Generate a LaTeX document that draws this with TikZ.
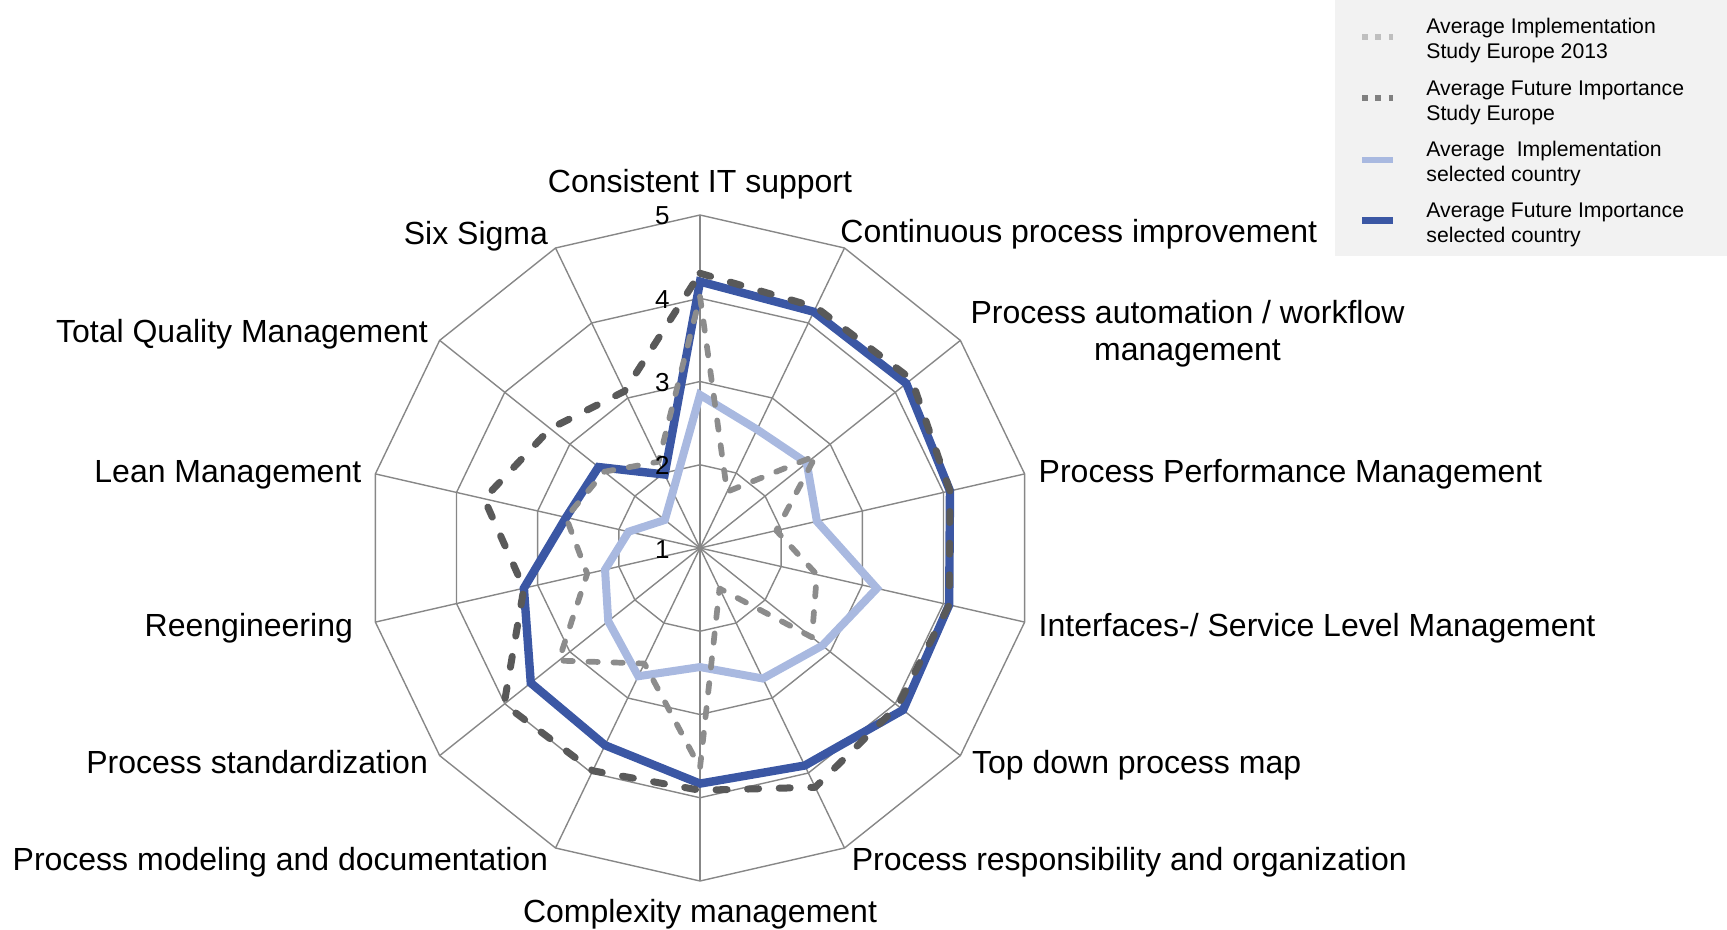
\documentclass[tikz,border=0pt]{standalone}
\usepackage{fontspec}
\setmainfont{Liberation Sans}
\definecolor{gridgray}{HTML}{878787}
\definecolor{futblue}{HTML}{3B57A4}
\definecolor{implblue}{HTML}{A9B9E0}
\definecolor{eurodark}{HTML}{595959}
\definecolor{eurolight}{HTML}{8C8C8C}
\definecolor{legendbg}{HTML}{F2F2F2}
\definecolor{legA}{HTML}{BFBFBF}
\definecolor{legB}{HTML}{808080}
\begin{document}
\begin{tikzpicture}[x=0.5pt,y=0.5pt,
  gridline/.style={draw=gridgray, line width=0.7pt},
  futline/.style={draw=futblue, line width=4.2pt, line join=miter},
  implline/.style={draw=implblue, line width=4pt, line join=miter},
  eurofut/.style={draw=eurodark, line width=3.5pt, line cap=round, line join=round, dash pattern=on 5.5pt off 10.3pt},
  euroimpl/.style={draw=eurolight, line width=2.85pt, line cap=round, line join=round, dash pattern=on 4.7pt off 7.8pt},
  axislabel/.style={font=\fontsize{16}{19}\selectfont, inner sep=0pt},
  ticklabel/.style={font=\fontsize{13}{15}\selectfont, inner sep=0pt, anchor=base east},
  legendtext/.style={font=\fontsize{10.6}{12.25}\selectfont, inner sep=0pt, anchor=base west},
  legsampleA/.style={draw=legA, line width=3pt, dash pattern=on 3pt off 3.7pt},
  legsampleB/.style={draw=legB, line width=3pt, dash pattern=on 3pt off 3.7pt},
  legsampleC/.style={draw=implblue, line width=3.2pt},
  legsampleD/.style={draw=futblue, line width=3.2pt}]
\useasboundingbox (0,0) rectangle (1727,-930);

% legend background
\fill[legendbg] (1335,0) rectangle (1727,-256);

\begin{scope}[shift={(700,-548)}]
  \coordinate (O) at (0,0);
  % grid rings
  \foreach \r in {1,2,3,4} {
    \draw[gridline] (90:{\r*83.25}) \foreach \k in {1,...,13} { -- ({90-\k*360/14}:{\r*83.25}) } -- cycle;
  }
  % spokes
  \foreach \k in {0,...,13} {
    \coordinate (g\k) at ({90-\k*360/14}:333);
    \draw[gridline] (O) -- (g\k);
  }
  % data points
  \foreach \v [count=\k from 0] in {4.20,4.15,4.17,4.08,4.07,4.12,3.90,3.83,3.63,3.60,3.17,2.65,2.56,1.98}
    \coordinate (d\k) at ({90-\k*360/14}:{(\v-1)*83.25});
  \foreach \v [count=\k from 0] in {2.84,2.58,2.64,2.44,3.18,2.88,2.74,2.43,2.71,2.41,2.17,1.88,1.54,1.75}
    \coordinate (c\k) at ({90-\k*360/14}:{(\v-1)*83.25});
  \foreach \v [count=\k from 0] in {4.02,1.75,2.78,1.94,2.44,2.72,1.54,3.64,2.54,3.17,2.39,2.65,2.47,2.15}
    \coordinate (a\k) at ({90-\k*360/14}:{(\v-1)*83.25});
  \foreach \v [count=\k from 0] in {4.30,4.21,4.25,4.08,4.07,4.04,4.19,3.91,3.97,4.01,3.17,3.66,3.30,3.09}
    \coordinate (b\k) at ({90-\k*360/14}:{(\v-1)*83.25});
\end{scope}

% series
\draw[futline] (d0) \foreach \k in {1,...,13} { -- (d\k) } -- cycle;
\draw[implline] (c0) \foreach \k in {1,...,13} { -- (c\k) } -- cycle;
\draw[euroimpl] (a0) \foreach \k in {1,...,13} { -- (a\k) } -- cycle;
\draw[eurofut] (b0) \foreach \k in {1,...,13} { -- (b\k) } -- cycle;

% tick labels
\node[ticklabel] (t1) at (670,-558) {1};
\node[ticklabel] (t2) at (670,-474.75) {2};
\node[ticklabel] (t3) at (670,-391.5) {3};
\node[ticklabel] (t4) at (670,-308.25) {4};
\node[ticklabel] (t5) at (670,-225) {5};

% axis labels
\node[axislabel, anchor=base] (l0) at (700,-193) {Consistent IT support};
\node[axislabel, anchor=base west] (l1) at (840,-243) {Continuous process improvement};
\node[axislabel, anchor=base] (l2a) at (1187.5,-323.5) {Process automation / workflow};
\node[axislabel, anchor=base] (l2b) at (1187.5,-360) {management};
\node[axislabel, anchor=base west] (l3) at (1038.3,-482) {Process Performance Management};
\node[axislabel, anchor=base west] (l4) at (1038.3,-636) {Interfaces-/ Service Level Management};
\node[axislabel, anchor=base west] (l5) at (971.7,-773.3) {Top down process map};
\node[axislabel, anchor=base west] (l6) at (851.4,-870) {Process responsibility and organization};
\node[axislabel, anchor=base] (l7) at (700,-922.7) {Complexity management};
\node[axislabel, anchor=base east] (l8) at (548.5,-870) {Process modeling and documentation};
\node[axislabel, anchor=base east] (l9) at (428.3,-773.3) {Process standardization};
\node[axislabel, anchor=base east] (l10) at (353.3,-636) {Reengineering};
\node[axislabel, anchor=base east] (l11) at (361.7,-482) {Lean Management};
\node[axislabel, anchor=base east] (l12) at (428.3,-342.7) {Total Quality Management};
\node[axislabel, anchor=base east] (l13) at (548.3,-245) {Six Sigma};

% legend
\coordinate (sA1) at (1362,-37.3); \coordinate (sA2) at (1393,-37.3);
\coordinate (sB1) at (1362,-98.3); \coordinate (sB2) at (1393,-98.3);
\coordinate (sC1) at (1362,-160); \coordinate (sC2) at (1393,-160);
\coordinate (sD1) at (1362,-220.7); \coordinate (sD2) at (1393,-220.7);
\draw[legsampleA] (sA1) -- (sA2);
\draw[legsampleB] (sB1) -- (sB2);
\draw[legsampleC] (sC1) -- (sC2);
\draw[legsampleD] (sD1) -- (sD2);
\node[legendtext] (e1a) at (1426,-34) {Average Implementation};
\node[legendtext] (e1b) at (1426,-58.5) {Study Europe 2013};
\node[legendtext] (e2a) at (1426,-96) {Average Future Importance};
\node[legendtext] (e2b) at (1426,-120.5) {Study Europe};
\node[legendtext] (e3a) at (1426,-157) {Average\ \ Implementation};
\node[legendtext] (e3b) at (1426,-181.5) {selected country};
\node[legendtext] (e4a) at (1426,-218) {Average Future Importance};
\node[legendtext] (e4b) at (1426,-242.5) {selected country};
\end{tikzpicture}
\end{document}
